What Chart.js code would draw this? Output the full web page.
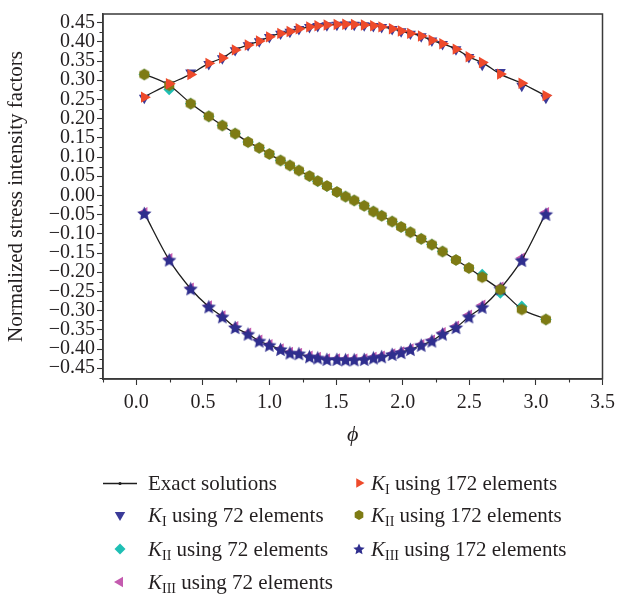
<!DOCTYPE html>
<html>
<head>
<meta charset="utf-8">
<script src="https://cdn.jsdelivr.net/npm/chart.js@4.4.0/dist/chart.umd.min.js"></script>
<style>
html,body{margin:0;padding:0;background:#ffffff;}
#wrap{width:621px;height:598px;position:relative;}
canvas{display:block;}
</style>
</head>
<body>
<div id="wrap"><canvas id="c" width="621" height="598"></canvas></div>
<script>
// ---------- data ----------
const phi = [0.060, 0.247, 0.408, 0.544, 0.646, 0.742, 0.839, 0.923, 0.999, 1.083, 1.153,
             1.221, 1.300, 1.362, 1.431, 1.506, 1.571, 1.636, 1.711, 1.780, 1.842, 1.921,
             1.988, 2.058, 2.139, 2.219, 2.299, 2.400, 2.497, 2.597, 2.733, 2.894, 3.075];

const exactKI   = [0.257, 0.290, 0.316, 0.344, 0.358, 0.379, 0.392, 0.402, 0.413, 0.422, 0.427,
                   0.434, 0.439, 0.442, 0.444, 0.445, 0.446, 0.445, 0.444, 0.442, 0.439, 0.434,
                   0.428, 0.422, 0.415, 0.404, 0.395, 0.381, 0.361, 0.346, 0.316, 0.292, 0.259];
const exactKII  = [0.316, 0.287, 0.240, 0.206, 0.182, 0.161, 0.139, 0.124, 0.108, 0.091, 0.078,
                   0.065, 0.050, 0.037, 0.024, 0.009, -0.003, -0.013, -0.027, -0.042, -0.053, -0.068,
                   -0.082, -0.096, -0.113, -0.128, -0.146, -0.168, -0.189, -0.213, -0.246, -0.296, -0.322];
const exactKIII = [-0.046, -0.168, -0.243, -0.290, -0.316, -0.344, -0.361, -0.379, -0.390, -0.401, -0.410,
                   -0.413, -0.420, -0.423, -0.427, -0.427, -0.428, -0.428, -0.427, -0.423, -0.420, -0.414,
                   -0.409, -0.401, -0.390, -0.379, -0.361, -0.344, -0.316, -0.291, -0.243, -0.168, -0.046];

const kI72   = [0.254, 0.289, 0.320, 0.342, 0.357, 0.378, 0.391, 0.401, 0.412, 0.421, 0.426,
                0.433, 0.438, 0.441, 0.443, 0.444, 0.445, 0.444, 0.443, 0.441, 0.438, 0.433,
                0.427, 0.421, 0.414, 0.403, 0.394, 0.380, 0.360, 0.340, 0.321, 0.285, 0.254];
const kII72  = [0.315, 0.276, 0.239, 0.206, 0.182, 0.161, 0.139, 0.124, 0.108, 0.091, 0.078,
                0.065, 0.050, 0.037, 0.024, 0.009, -0.003, -0.013, -0.027, -0.042, -0.053, -0.068,
                -0.082, -0.096, -0.113, -0.128, -0.146, -0.168, -0.189, -0.206, -0.254, -0.289, -0.323];
const kIII72 = [-0.044, -0.164, -0.241, -0.287, -0.313, -0.341, -0.358, -0.376, -0.388, -0.399, -0.408,
                -0.411, -0.418, -0.421, -0.425, -0.425, -0.426, -0.426, -0.425, -0.421, -0.418, -0.412,
                -0.407, -0.399, -0.388, -0.376, -0.357, -0.340, -0.311, -0.285, -0.238, -0.163, -0.044];

const kI172   = [0.256, 0.291, 0.315, 0.344, 0.358, 0.379, 0.392, 0.402, 0.413, 0.422, 0.427,
                 0.434, 0.439, 0.442, 0.444, 0.445, 0.446, 0.445, 0.444, 0.442, 0.439, 0.434,
                 0.428, 0.422, 0.415, 0.404, 0.395, 0.381, 0.361, 0.346, 0.316, 0.292, 0.260];
const kII172  = [0.315, 0.287, 0.239, 0.206, 0.182, 0.161, 0.139, 0.124, 0.108, 0.091, 0.078,
                 0.065, 0.0505, 0.0375, 0.0246, 0.009, -0.003, -0.013, -0.027, -0.042, -0.053, -0.068,
                 -0.082, -0.096, -0.113, -0.128, -0.146, -0.168, -0.189, -0.213, -0.245, -0.297, -0.323];
const kIII172 = [-0.047, -0.168, -0.243, -0.290, -0.316, -0.344, -0.361, -0.379, -0.390, -0.401, -0.410,
                 -0.412, -0.420, -0.423, -0.427, -0.427, -0.428, -0.428, -0.427, -0.423, -0.420, -0.414,
                 -0.409, -0.401, -0.390, -0.379, -0.361, -0.344, -0.316, -0.291, -0.243, -0.169, -0.049];

const xTickValues = [0.0, 0.5, 1.0, 1.5, 2.0, 2.5, 3.0, 3.5];
const yTickValues = [-0.45, -0.40, -0.35, -0.30, -0.25, -0.20, -0.15, -0.10, -0.05, 0.00,
                     0.05, 0.10, 0.15, 0.20, 0.25, 0.30, 0.35, 0.40, 0.45];

const labels = {
  exact: 'Exact solutions',
  kI72: 'K_I using 72 elements',
  kII72: 'K_II using 72 elements',
  kIII72: 'K_III using 72 elements',
  kI172: 'K_I using 172 elements',
  kII172: 'K_II using 172 elements',
  kIII172: 'K_III using 172 elements'
};

// ---------- styling ----------
const SERIF = '"Liberation Serif", "Times New Roman", serif';
const TXT = '#231F20';
const C = {
  exact: '#1e1e1e',
  navyTri: '#3A3A98',
  cyan: '#1FBFB4',
  pink: '#C45BAF',
  red: '#EE4A2B',
  olive: '#7E7B14',
  navyStar: '#2F2E8E'
};

function makeStar(r, color) {
  const s = Math.ceil(2 * r + 2);
  const cv = document.createElement('canvas');
  cv.width = s; cv.height = s;
  const g = cv.getContext('2d');
  g.fillStyle = color;
  g.beginPath();
  for (let i = 0; i < 10; i++) {
    const rr = (i % 2) ? r * 0.47 : r;
    const a = -Math.PI / 2 + i * Math.PI / 5;
    g.lineTo(s / 2 + rr * Math.cos(a), s / 2 + rr * Math.sin(a) + r * 0.08);
  }
  g.closePath();
  g.fill();
  return cv;
}
function makeHex(r, color) {
  const s = Math.ceil(2 * r + 2);
  const cv = document.createElement('canvas');
  cv.width = s; cv.height = s;
  const g = cv.getContext('2d');
  g.fillStyle = color;
  g.beginPath();
  for (let i = 0; i < 6; i++) {
    const a = Math.PI / 6 + i * Math.PI / 3;
    g.lineTo(s / 2 + r * Math.cos(a), s / 2 + r * Math.sin(a));
  }
  g.closePath();
  g.fill();
  return cv;
}

const starImg = makeStar(7.5, C.navyStar);
const hexImg = makeHex(5.8, C.olive);
const starImgSmall = makeStar(6, C.navyStar);
const hexImgSmall = makeHex(5, C.olive);

const pts = arr => phi.map((x, i) => ({ x: x, y: arr[i] }));

function exactSet(arr, inLegend) {
  return {
    label: labels.exact, data: pts(arr), showLine: true,
    borderColor: C.exact, backgroundColor: C.exact, borderWidth: 1.3,
    pointRadius: 1.4, pointHoverRadius: 1.4, pointStyle: 'circle', pointBorderWidth: 0,
    cubicInterpolationMode: 'monotone', order: 2, inLegend: inLegend, isLine: true
  };
}
function markerSet(label, arr, style, color, radius, rot, order, legendStyle, legendRadius) {
  return {
    label: label, data: pts(arr), showLine: false,
    backgroundColor: color, borderColor: color, borderWidth: 0, pointBorderWidth: 0,
    pointStyle: style, pointRadius: radius, pointHoverRadius: radius, pointRotation: rot,
    order: order, inLegend: true, legendStyle: legendStyle || style, legendRadius: legendRadius
  };
}

const datasets = [
  exactSet(exactKI, true),
  markerSet(labels.kI72, kI72, 'triangle', C.navyTri, 6.3, 180, 3, null, 6),
  markerSet(labels.kII72, kII72, 'rectRot', C.cyan, 5.8, 0, 3, null, 5.5),
  markerSet(labels.kIII72, kIII72, 'triangle', C.pink, 6.3, 270, 3, null, 6),
  markerSet(labels.kI172, kI172, 'triangle', C.red, 6.6, 90, 1, null, 5.5),
  markerSet(labels.kII172, kII172, hexImg, C.olive, 5.8, 0, 1, hexImgSmall, 5),
  markerSet(labels.kIII172, kIII172, starImg, C.navyStar, 7.5, 0, 1, starImgSmall, 6),
  exactSet(exactKII, false),
  exactSet(exactKIII, false)
];

// ---------- plugins ----------
const framePlugin = {
  id: 'frameAndMinor',
  afterDatasetsDraw(chart) {
    const { ctx, chartArea: a, scales } = chart;
    ctx.save();
    ctx.strokeStyle = '#3a3a3a';
    ctx.lineWidth = 1.5;
    ctx.strokeRect(a.left, a.top, a.right - a.left, a.bottom - a.top);
    // minor ticks
    ctx.lineWidth = 1.1;
    ctx.strokeStyle = '#333';
    const ys = scales.y, xs = scales.x;
    const yStep = yTickValues[1] - yTickValues[0];
    const yMinor = yTickValues.slice(0, -1).map(v => v + yStep / 2);
    yMinor.push(yTickValues[0] - yStep / 2);
    yMinor.push(yTickValues[yTickValues.length - 1] + yStep / 2);
    ctx.beginPath();
    yMinor.forEach(v => {
      if (v < ys.min || v > ys.max) return;
      const p = Math.round(ys.getPixelForValue(v)) + 0.5;
      ctx.moveTo(a.left, p); ctx.lineTo(a.left - 3.5, p);
    });
    const xStep = xTickValues[1] - xTickValues[0];
    const xMinor = xTickValues.slice(0, -1).map(v => v + xStep / 2);
    xMinor.push(xTickValues[0] - xStep / 2);
    xMinor.forEach(v => {
      if (v < xs.min - 1e-9 || v > xs.max) return;
      const p = Math.round(xs.getPixelForValue(v)) + 0.5;
      ctx.moveTo(p, a.bottom); ctx.lineTo(p, a.bottom + 3.5);
    });
    ctx.stroke();
    ctx.restore();
  }
};

const legendPlugin = {
  id: 'customLegend',
  afterDraw(chart) {
    const ctx = chart.ctx;
    const markerX = [120, 359];
    const textX = [148, 371];
    const rowY = [483, 515, 549, 582];
    const items = chart.data.datasets.filter(d => d.inLegend);
    ctx.save();
    items.forEach((d, i) => {
      const col = i < 4 ? 0 : 1;
      const row = i < 4 ? i : i - 4;
      const mx = markerX[col], my = rowY[row];
      if (d.isLine) {
        ctx.strokeStyle = d.borderColor; ctx.lineWidth = 1.3;
        ctx.beginPath(); ctx.moveTo(mx - 17, my + 0.5); ctx.lineTo(mx + 17, my + 0.5); ctx.stroke();
        ctx.fillStyle = d.borderColor;
        ctx.beginPath(); ctx.arc(mx, my + 0.5, 1.6, 0, Math.PI * 2); ctx.fill();
      } else {
        ctx.fillStyle = d.backgroundColor; ctx.strokeStyle = d.borderColor;
        Chart.helpers.drawPoint(ctx, {
          pointStyle: d.legendStyle, rotation: d.pointRotation,
          radius: d.legendRadius, borderWidth: 0
        }, mx, my);
      }
      // text with italic K and subscript roman numeral
      const base = my + 7;
      let x = textX[col];
      ctx.fillStyle = TXT;
      ctx.textBaseline = 'alphabetic';
      ctx.textAlign = 'left';
      const m = /^K_(I+)(.*)$/.exec(d.label);
      if (m) {
        ctx.font = 'italic 21px ' + SERIF;
        ctx.fillText('K', x, base);
        x += ctx.measureText('K').width;
        ctx.font = '14px ' + SERIF;
        ctx.fillText(m[1], x, base + 4);
        x += ctx.measureText(m[1]).width;
        ctx.font = '21px ' + SERIF;
        ctx.fillText(m[2], x, base);
      } else {
        ctx.font = '21px ' + SERIF;
        ctx.fillText(d.label, x, base);
      }
    });
    ctx.restore();
  }
};

// ---------- chart ----------
const fmtY = v => (v < -1e-9 ? '\u2212' : '') + Math.abs(v).toFixed(2);

new Chart(document.getElementById('c'), {
  type: 'scatter',
  data: { datasets: datasets },
  options: {
    responsive: false,
    animation: false,
    devicePixelRatio: 1,
    layout: { padding: { left: 0, top: 12, right: 14, bottom: 150 } },
    plugins: { legend: { display: false }, tooltip: { enabled: false }, title: { display: false } },
    elements: { line: { tension: 0 } },
    scales: {
      x: {
        type: 'linear', position: 'bottom', min: -0.25, max: 3.5,
        afterBuildTicks: s => { s.ticks = xTickValues.map(v => ({ value: v })); },
        afterFit: s => { s.height = 69; },
        ticks: {
          callback: v => Number(v).toFixed(1), autoSkip: false, maxRotation: 0,
          font: { family: SERIF, size: 20 }, color: TXT, padding: 6
        },
        grid: { display: true, drawOnChartArea: false, drawTicks: true, tickLength: 6, tickColor: '#333', tickWidth: 1.1 },
        border: { display: true, color: '#3a3a3a', width: 1.5 },
        title: { display: true, text: '\u03D5', color: TXT, font: { family: SERIF, size: 22, style: 'italic' }, padding: { top: 0, bottom: 0 } }
      },
      y: {
        type: 'linear', position: 'left', min: -0.478, max: 0.4725,
        afterBuildTicks: s => { s.ticks = yTickValues.map(v => ({ value: v })); },
        afterFit: s => { s.width = 103; },
        ticks: {
          callback: v => fmtY(v), autoSkip: false,
          font: { family: SERIF, size: 20 }, color: TXT, padding: 2
        },
        grid: { display: true, drawOnChartArea: false, drawTicks: true, tickLength: 6, tickColor: '#333', tickWidth: 1.1 },
        border: { display: true, color: '#3a3a3a', width: 1.5 },
        title: { display: true, text: 'Normalized stress intensity factors', color: TXT, font: { family: SERIF, size: 21 }, padding: { top: 4, bottom: 0 } }
      }
    }
  },
  plugins: [framePlugin, legendPlugin]
});
</script>
</body>
</html>
